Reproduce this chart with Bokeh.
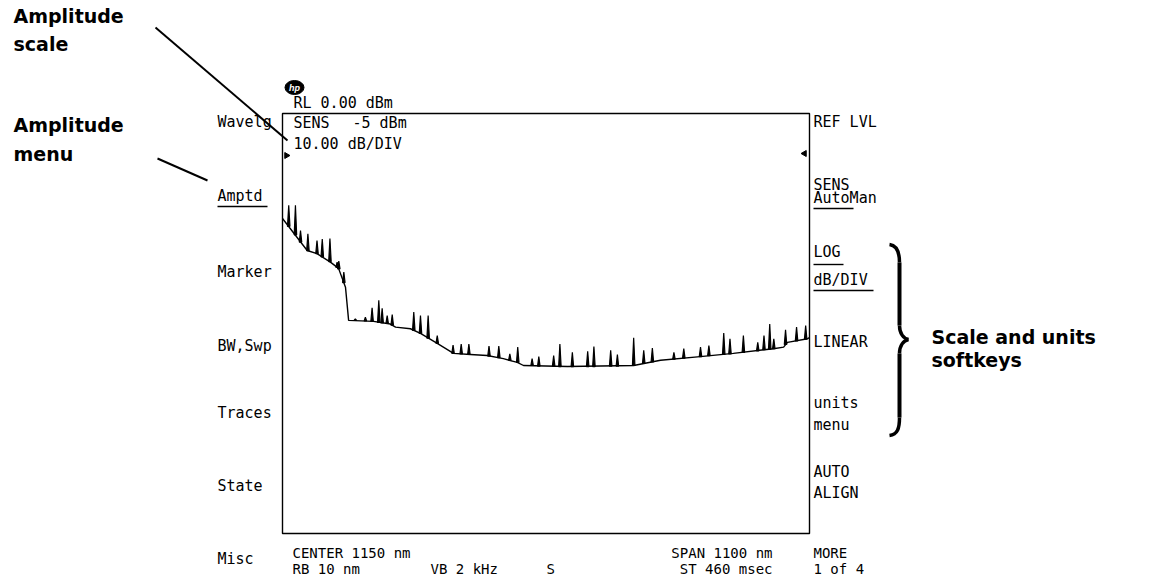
import numpy as np
from bokeh.plotting import figure
from bokeh.models import Range1d
from bokeh.core.properties import value
from bokeh.embed import file_html
from bokeh.resources import INLINE

# ---------------- data ----------------
center_nm = 1150.0
span_nm = 1100.0
ref_level_dbm = 0.0
sens_dbm = -5
db_per_div = 10.0
n_vdiv = 8
rbw_nm = 10
vbw_khz = 2
sweep_ms = 460

# smooth part of the trace (wavelength nm, level dBm)
base_wl = [600, 651.5, 672, 700, 717, 731.5, 738, 790, 825, 836, 867, 888, 923, 957,
           992, 1027, 1061, 1090, 1103, 1195, 1333, 1389, 1472, 1541, 1625, 1646,
           1654, 1696, 1700]
base_dbm = [-20.0, -26.1, -26.7, -28.3, -29.5, -33.1, -39.4, -39.6, -40.1, -40.7, -41.0,
            -41.9, -43.8, -45.7, -45.9, -46.1, -46.7, -47.4, -48.0, -48.2, -48.0, -47.0,
            -46.3, -45.7, -44.8, -44.5, -43.6, -42.9, -42.7]

# noise spikes: position, foot level, peak level
spike_wl = [613, 627, 637.6, 653, 672, 683, 699, 714, 717.5, 728, 752, 773, 787, 801, 808,
            818.5, 829, 874, 888, 904, 923, 956, 973, 989, 1031, 1051.5, 1074.5, 1091, 1121,
            1135, 1166, 1179, 1205, 1237, 1250, 1285, 1299, 1333, 1354, 1372, 1417, 1437.6,
            1472.5, 1490, 1521, 1534, 1562, 1592, 1605, 1617, 1625.5, 1650, 1673, 1692]
spike_base = [-21.5, -23.1, -24.5, -26.1, -26.7, -27.3, -28.2, -29.3, -29.6, -32.2, -39.4,
              -39.5, -39.6, -39.8, -39.9, -40.0, -40.3, -41.3, -41.9, -42.8, -43.8, -45.7,
              -45.8, -45.9, -46.2, -46.5, -47.0, -47.4, -48.0, -48.1, -48.1, -48.2, -48.2,
              -48.2, -48.2, -48.1, -48.1, -48.0, -47.6, -47.3, -46.8, -46.6, -46.3, -46.1,
              -45.9, -45.8, -45.5, -45.2, -45.0, -44.9, -44.8, -44.0, -43.3, -43.0]
spike_peak = [-17.5, -17.5, -22.3, -22.9, -24.2, -23.9, -23.8, -28.3, -28.1, -30.2, -39.1,
              -38.8, -37.0, -35.6, -37.1, -38.5, -38.3, -37.8, -38.5, -38.5, -42.3, -44.1,
              -43.9, -43.9, -44.3, -44.3, -45.8, -44.5, -46.7, -46.3, -46.1, -43.9, -45.5,
              -45.3, -44.4, -45.1, -45.9, -42.7, -45.1, -44.7, -45.5, -44.8, -44.5, -44.2,
              -41.8, -42.9, -42.3, -43.6, -42.3, -40.1, -42.9, -41.2, -40.7, -40.4]

left_menu = ["Wavelg", "Amptd", "Marker", "BW,Swp", "Traces", "State", "Misc"]
right_keys = ["REF LVL", "SENS", "AutoMan", "LOG", "dB/DIV", "LINEAR", "units", "menu",
              "AUTO", "ALIGN"]
more_keys = ["MORE", "1 of 4"]
callouts = ["Amplitude", "scale", "Amplitude", "menu", "Scale and units", "softkeys"]

# ---------------- layout (picture pixel coordinates) ----------------
W, H = 1172, 577
BOX_L, BOX_R, BOX_T, BOX_B = 282, 809, 113, 533
MONO = value("DejaVu Sans Mono")
SANS = value("DejaVu Sans")

p = figure(width=W, height=H, x_range=Range1d(0, W), y_range=Range1d(H, 0),
           output_backend="svg", toolbar_location=None, tools="", min_border=0,
           x_axis_location=None, y_axis_location=None)
p.outline_line_color = None
p.background_fill_color = "white"
p.border_fill_color = "white"
p.xgrid.visible = False
p.ygrid.visible = False

# data ranges mapped onto the graticule box
wl_lo = center_nm - span_nm / 2
wl_hi = center_nm + span_nm / 2
nm_px = span_nm / (BOX_R - BOX_L)
db_bot = ref_level_dbm - db_per_div * n_vdiv
db_px = (ref_level_dbm - db_bot) / (BOX_B - BOX_T)
p.extra_x_ranges = {"wl": Range1d(wl_lo - BOX_L * nm_px, wl_hi + (W - BOX_R) * nm_px)}
p.extra_y_ranges = {"db": Range1d(db_bot - (H - BOX_B) * db_px, ref_level_dbm + BOX_T * db_px)}

# graticule box
p.quad(left=[wl_lo], right=[wl_hi], bottom=[db_bot], top=[ref_level_dbm], fill_color=None,
       line_color="black", line_width=1.4, x_range_name="wl", y_range_name="db")

# trace
p.line(base_wl, base_dbm, line_color="black", line_width=1.4, x_range_name="wl", y_range_name="db")
hw = 2.6
xs = [[w - hw, w, w + hw] for w in spike_wl]
ys = [[b, pk, b] for b, pk in zip(spike_base, spike_peak)]
p.patches(xs, ys, fill_color="black", line_color="black", line_width=1.2,
          x_range_name="wl", y_range_name="db")

# small reference markers at the box edges
p.scatter([286, 804], [155, 153], marker="triangle", angle=[-np.pi / 2, np.pi / 2], size=6,
          fill_color="black", line_color="black")

# hp logo
p.ellipse(x=[294], y=[87], width=19, height=14, fill_color="black", line_color="black")
p.text(x=[294], y=[87], text=["hp"], text_font=value("Liberation Sans"), text_font_size="9px",
       text_font_style="bold italic", text_color="white", text_align="center", text_baseline="middle")

def txt(x, y, t, align="left", font=MONO, size=15, style="normal"):
    # y are baselines; draw with middle alignment at the cap centre
    ym = [v - 0.36 * size for v in y]
    p.text(x=x, y=ym, text=t, text_font=font, text_font_size=f"{size}px", text_align=align,
           text_baseline="middle", text_font_style=style, text_color="black")

# header text inside/above the box
txt([293, 352, 293], [108, 128, 149],
    [f"RL {ref_level_dbm:.2f} dBm", f"{sens_dbm} dBm", f"{db_per_div:.2f} dB/DIV"])
txt([293], [128], ["SENS"])

# left menu
txt([217] * 7, [127, 201, 277, 351, 418, 491, 564], left_menu)
# right softkeys
txt([813] * 10, [127, 190, 203, 257, 285, 347, 408, 430, 477, 498], right_keys)
txt([813, 813], [558, 574], more_keys, size=14)

# bottom annotation
txt([292, 292, 430, 546], [558, 574, 574, 574],
    [f"CENTER {center_nm:.0f} nm", f"RB {rbw_nm} nm", f"VB {vbw_khz} kHz", "S"], size=14)
txt([772, 772], [558, 574], [f"SPAN {span_nm:.0f} nm", f"ST {sweep_ms} msec"], align="right",
    size=14)

# underlines of active keys
p.segment(x0=[217, 813, 813, 813], y0=[206, 208, 264, 290],
          x1=[267, 853, 843, 873], y1=[206, 208, 264, 290], line_color="black", line_width=1.4)

# callouts
txt([13, 13, 13, 13, 931, 931], [22, 50, 131, 160, 343, 366], callouts,
    font=SANS, size=19, style="bold")
p.segment(x0=[155, 157], y0=[27, 158], x1=[287, 207], y1=[140, 180],
          line_color="black", line_width=2)

# brace
p.bezier(x0=[889, 899, 908, 899], y0=[244, 325, 339, 417],
         x1=[899, 908, 899, 889], y1=[262, 339, 353, 435],
         cx0=[897, 899, 903, 899], cy0=[245, 333, 340, 428],
         cx1=[899, 903, 899, 897], cy1=[252, 338, 345, 434],
         line_color="black", line_width=3.5)
p.segment(x0=[899, 899], y0=[262, 353], x1=[899, 899], y1=[325, 417],
          line_color="black", line_width=4)

open("out.html", "w").write(file_html(p, INLINE))
